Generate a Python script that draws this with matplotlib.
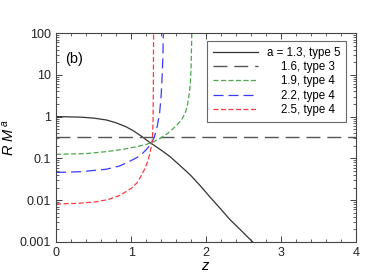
import matplotlib
matplotlib.use("Agg")
import matplotlib.pyplot as plt
from matplotlib.ticker import MultipleLocator, LogLocator, NullFormatter

plt.rcParams['font.family'] = ['Liberation Sans', 'DejaVu Sans']
plt.rcParams['mathtext.fontset'] = 'custom'
plt.rcParams['mathtext.it'] = 'Liberation Sans:italic'
plt.rcParams['mathtext.rm'] = 'Liberation Sans'

# values
z_13 = [0, 0.33, 0.5, 0.67, 0.8, 0.93, 1.03, 1.13, 1.25, 1.4, 1.52, 1.65, 1.79, 1.92, 2.05, 2.2, 2.32, 2.47, 2.62]
v_13 = [1.0, 0.97, 0.92, 0.83, 0.71, 0.575, 0.457, 0.347, 0.24, 0.158, 0.11, 0.068, 0.04, 0.0224,
        0.012, 0.006, 0.0034, 0.00186, 0.001]

z_16 = [0, 4]
v_16 = [0.32, 0.32]

z_19 = [0, 0.4, 0.67, 0.9, 1.07, 1.2, 1.3, 1.4, 1.5, 1.6, 1.67, 1.72, 1.75, 1.77, 1.79, 1.80, 1.81]
v_19 = [0.125, 0.13, 0.145, 0.165, 0.19, 0.215, 0.25, 0.31, 0.41, 0.6, 0.82, 1.2, 1.8, 3.0, 6.0, 15, 100]

z_22 = [0, 0.33, 0.67, 0.85, 0.98, 1.08, 1.15, 1.22, 1.27, 1.31, 1.35, 1.38, 1.40, 1.415, 1.425, 1.43]
v_22 = [0.046, 0.048, 0.055, 0.066, 0.085, 0.105, 0.13, 0.175, 0.23, 0.32, 0.6, 1.2, 3.0, 10, 30, 100]

z_25 = [0, 0.3, 0.53, 0.7, 0.85, 1.0, 1.08, 1.13, 1.18, 1.22, 1.25, 1.27, 1.285, 1.293, 1.297, 1.30]
v_25 = [0.0081, 0.0084, 0.0091, 0.0104, 0.013, 0.019, 0.026, 0.037, 0.055, 0.083, 0.13, 0.19, 0.3,
        0.8, 5.0, 100]

labels = ['a = 1.3, type 5', '1.6, type 3', '1.9, type 4', '2.2, type 4', '2.5, type 4']

fig = plt.figure(figsize=(3.74, 2.8), dpi=100)
ax = fig.add_axes([0.15, 0.136, 0.802, 0.746])

ax.plot(z_13, v_13, color='#333333', lw=0.9, label=labels[0])
ax.plot(z_16, v_16, color='#555555', lw=1.0, dashes=(10, 5), label=labels[1])
ax.plot(z_19, v_19, color='#4aa84a', lw=0.9, dashes=(4, 2), label=labels[2])
ax.plot(z_22, v_22, color='#3a3aff', lw=0.9, dashes=(8, 4), label=labels[3])
ax.plot(z_25, v_25, color='#ff3a3a', lw=0.9, dashes=(4, 2), label=labels[4])

ax.set_yscale('log')
ax.set_xlim(0, 4)
ax.set_ylim(0.001, 100)
ax.set_yticks([0.001, 0.01, 0.1, 1, 10, 100])
ax.set_yticklabels(['0.001', '0.01', '0.1', '1', '10', '100'])
ax.yaxis.set_minor_locator(LogLocator(base=10, subs=range(2, 10), numticks=20))
ax.yaxis.set_minor_formatter(NullFormatter())
ax.xaxis.set_major_locator(MultipleLocator(1))
ax.xaxis.set_minor_locator(MultipleLocator(0.2))
ax.tick_params(which='both', direction='in', top=True, right=True, labelsize=9, colors='#222222')
ax.tick_params(which='major', length=4, width=0.6)
ax.tick_params(which='minor', length=2, width=0.5)
for s in ax.spines.values():
    s.set_linewidth(0.8)
    s.set_color('#444444')

ax.set_xlabel('$z$', fontsize=10.5, labelpad=0)
ax.set_ylabel('$R\\ M^{\\,a}$', fontsize=10.5, labelpad=2)
ax.text(0.03, 0.855, '(b)', transform=ax.transAxes, fontsize=10.5)

leg = ax.legend(loc='upper right', bbox_to_anchor=(0.967, 0.962), fontsize=8.3,
                frameon=True, fancybox=False, edgecolor='#444444', handlelength=3.9,
                borderpad=0.5, labelspacing=0.2, handletextpad=0.8, borderaxespad=0)
leg.get_frame().set_linewidth(0.8)
fig.canvas.draw()
r = fig.canvas.get_renderer()
# right-align the legend labels (offsets inside the legend are in points)
widths = [t.get_window_extent(r).width * 72.0 / fig.dpi for t in leg.get_texts()]
wmax = max(widths)
for t, wi in zip(leg.get_texts(), widths):
    t.set_position((wmax - wi, 0))

fig.savefig('out.png', dpi=100)
